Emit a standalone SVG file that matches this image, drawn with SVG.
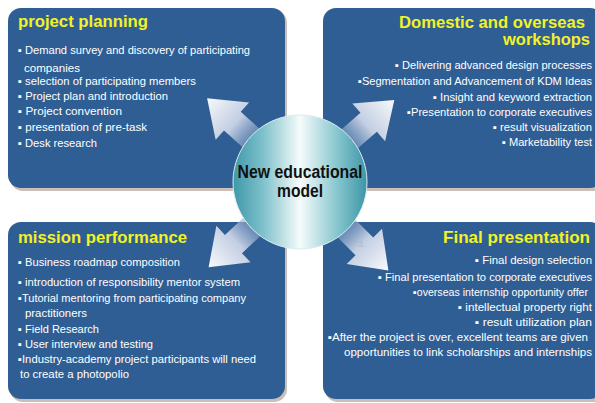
<svg xmlns="http://www.w3.org/2000/svg" width="595" height="403" viewBox="0 0 595 403">
  <defs>
    <style>
      .panel { fill: #2f5e94; }
      .shadow { fill: #cbbfb8; }
      .title { font-family: "Liberation Sans", Arial, sans-serif; font-weight: bold; font-size: 16px; fill: #f2f226; }
      .item { font-family: "Liberation Sans", "DejaVu Sans", Arial, sans-serif; font-size: 11px; fill: #ffffff; }
      .end { text-anchor: end; }
      .hubtext { font-family: "Liberation Sans", Arial, sans-serif; font-weight: bold; font-size: 18px; fill: #111111; text-anchor: middle; }
      .arrow { fill: url(#arrowFade); }
    </style>
    <linearGradient id="arrowFade" gradientUnits="userSpaceOnUse" x1="62" y1="0" x2="125" y2="0">
      <stop offset="0" stop-color="#88a2c8" stop-opacity="0.5"/>
      <stop offset="0.4" stop-color="#c2cee2"/>
      <stop offset="1" stop-color="#f8f9fc"/>
    </linearGradient>
    <linearGradient id="hubFill" x1="0" y1="0" x2="1" y2="0">
      <stop offset="0" stop-color="#3f98a8"/>
      <stop offset="0.22" stop-color="#7cc0ca"/>
      <stop offset="0.5" stop-color="#f6fbfb"/>
      <stop offset="0.78" stop-color="#86c6ce"/>
      <stop offset="1" stop-color="#3d95a6"/>
    </linearGradient>
    <path id="arrowShape" d="M60,-12.5 L91,-12.5 L91,-25 L125,0 L91,25 L91,12.5 L60,12.5 Z"/>
  </defs>

  <rect width="595" height="403" fill="#ffffff"/>

  <!-- top-left: project planning -->
  <g id="panel-planning">
    <rect class="shadow" x="10" y="10" width="277" height="181" rx="13"/>
    <rect class="panel" x="8" y="8" width="277" height="180" rx="13"/>
    <text class="title" x="18" y="27" textLength="130" lengthAdjust="spacingAndGlyphs">project planning</text>
    <text class="item" x="18" y="54" textLength="232" lengthAdjust="spacingAndGlyphs">▪ Demand survey and discovery of participating</text>
    <text class="item" x="24" y="72" textLength="56" lengthAdjust="spacingAndGlyphs">companies</text>
    <text class="item" x="18" y="85" textLength="178" lengthAdjust="spacingAndGlyphs">▪ selection of participating members</text>
    <text class="item" x="18" y="100" textLength="150" lengthAdjust="spacingAndGlyphs">▪ Project plan and introduction</text>
    <text class="item" x="18" y="115" textLength="104" lengthAdjust="spacingAndGlyphs">▪ Project  convention</text>
    <text class="item" x="18" y="131" textLength="129" lengthAdjust="spacingAndGlyphs">▪ presentation of pre-task</text>
    <text class="item" x="18" y="147" textLength="79" lengthAdjust="spacingAndGlyphs">▪ Desk research</text>
  </g>

  <!-- top-right: workshops -->
  <g id="panel-workshops">
    <rect class="shadow" x="325" y="10" width="280" height="181" rx="13"/>
    <rect class="panel" x="323" y="8" width="280" height="180" rx="13"/>
    <text class="title end" x="585" y="28" textLength="186" lengthAdjust="spacingAndGlyphs">Domestic and overseas</text>
    <text class="title end" x="590" y="45" textLength="87" lengthAdjust="spacingAndGlyphs">workshops</text>
    <text class="item end" x="592" y="69" textLength="197" lengthAdjust="spacingAndGlyphs">▪ Delivering advanced design processes</text>
    <text class="item end" x="592" y="85" textLength="234" lengthAdjust="spacingAndGlyphs">▪Segmentation and Advancement of KDM Ideas</text>
    <text class="item end" x="592" y="101" textLength="159" lengthAdjust="spacingAndGlyphs">▪ Insight and keyword extraction</text>
    <text class="item end" x="592" y="116" textLength="185" lengthAdjust="spacingAndGlyphs">▪Presentation to corporate executives</text>
    <text class="item end" x="592" y="131" textLength="99" lengthAdjust="spacingAndGlyphs">▪ result visualization</text>
    <text class="item end" x="592" y="146" textLength="90" lengthAdjust="spacingAndGlyphs">▪ Marketability test</text>
  </g>

  <!-- bottom-left: mission performance -->
  <g id="panel-mission">
    <rect class="shadow" x="10" y="224" width="277" height="178" rx="13"/>
    <rect class="panel" x="8" y="222" width="277" height="177" rx="13"/>
    <text class="title" x="18" y="243" textLength="169" lengthAdjust="spacingAndGlyphs">mission performance</text>
    <text class="item" x="18" y="266" textLength="162" lengthAdjust="spacingAndGlyphs">▪ Business roadmap composition</text>
    <text class="item" x="18" y="286" textLength="222" lengthAdjust="spacingAndGlyphs">▪ introduction of responsibility mentor system</text>
    <text class="item" x="18" y="302" textLength="228" lengthAdjust="spacingAndGlyphs">▪Tutorial mentoring from participating company</text>
    <text class="item" x="25" y="317" textLength="62" lengthAdjust="spacingAndGlyphs">practitioners</text>
    <text class="item" x="18" y="333" textLength="81" lengthAdjust="spacingAndGlyphs">▪ Field Research</text>
    <text class="item" x="18" y="348" textLength="135" lengthAdjust="spacingAndGlyphs">▪ User interview and testing</text>
    <text class="item" x="18" y="363" textLength="238" lengthAdjust="spacingAndGlyphs">▪Industry-academy project participants will need</text>
    <text class="item" x="20" y="378" textLength="109" lengthAdjust="spacingAndGlyphs">to create a photopolio</text>
  </g>

  <!-- bottom-right: final presentation -->
  <g id="panel-final">
    <rect class="shadow" x="325" y="224" width="280" height="178" rx="13"/>
    <rect class="panel" x="323" y="222" width="280" height="177" rx="13"/>
    <text class="title end" x="590" y="243" textLength="147" lengthAdjust="spacingAndGlyphs">Final presentation</text>
    <text class="item end" x="592" y="264" textLength="117" lengthAdjust="spacingAndGlyphs">▪ Final design selection</text>
    <text class="item end" x="592" y="281" textLength="214" lengthAdjust="spacingAndGlyphs">▪ Final presentation to corporate executives</text>
    <text class="item end" x="588" y="296" textLength="175" lengthAdjust="spacingAndGlyphs">▪overseas internship opportunity offer</text>
    <text class="item end" x="592" y="311" textLength="134" lengthAdjust="spacingAndGlyphs">▪ intellectual property right</text>
    <text class="item end" x="592" y="326" textLength="117" lengthAdjust="spacingAndGlyphs">▪ result utilization plan</text>
    <text class="item end" x="588" y="341" textLength="260" lengthAdjust="spacingAndGlyphs">▪After the project is over, excellent teams are given</text>
    <text class="item end" x="592" y="356" textLength="248" lengthAdjust="spacingAndGlyphs">opportunities to link scholarships and internships</text>
  </g>

  <!-- arrows radiating from the hub -->
  <g id="connectors">
    <use class="arrow" href="#arrowShape" transform="translate(300,182) rotate(-138)"/>
    <use class="arrow" href="#arrowShape" transform="translate(300,182) rotate(-41)"/>
    <use class="arrow" href="#arrowShape" transform="translate(300,182) rotate(137)"/>
    <use class="arrow" href="#arrowShape" transform="translate(300,182) rotate(45)"/>
    <text x="358" y="247" font-family="Liberation Sans, Arial, sans-serif" font-size="9" fill="#aeb9c8">3.</text>
  </g>

  <!-- central hub -->
  <g id="hub">
    <circle cx="300" cy="182" r="67" fill="url(#hubFill)" stroke="#d9ebee" stroke-width="1"/>
    <text class="hubtext" x="300" y="178" textLength="125" lengthAdjust="spacingAndGlyphs">New educational</text>
    <text class="hubtext" x="300" y="197" textLength="46" lengthAdjust="spacingAndGlyphs">model</text>
  </g>
</svg>
